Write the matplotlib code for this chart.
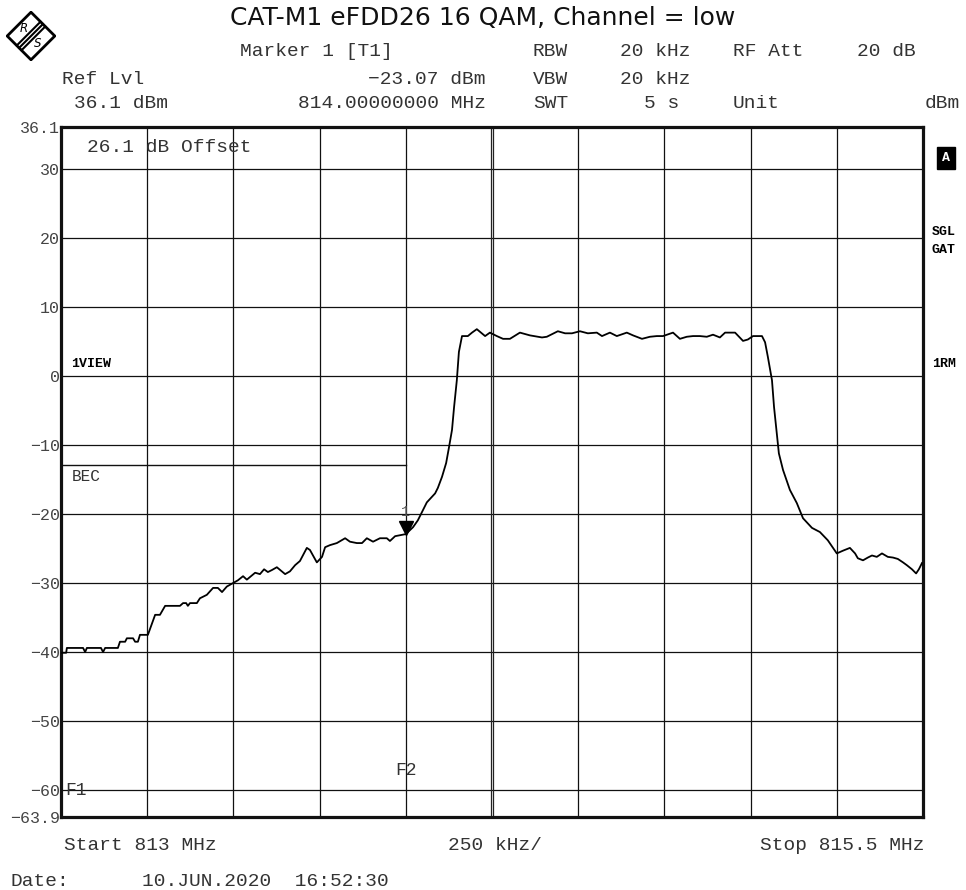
import matplotlib.pyplot as plt
from matplotlib.patches import Polygon
from matplotlib.transforms import offset_copy

# trace
freq_mhz = [813.000, 813.015, 813.017, 813.064, 813.070, 813.075, 813.116, 813.122,
            813.128, 813.165, 813.171, 813.186, 813.191, 813.209, 813.215, 813.223,
            813.229, 813.252, 813.273, 813.287, 813.302, 813.345, 813.354, 813.363,
            813.368, 813.374, 813.394, 813.403, 813.423, 813.441, 813.455, 813.467,
            813.481, 813.499, 813.513, 813.528, 813.539, 813.563, 813.577, 813.589,
            813.600, 813.612, 813.626, 813.650, 813.664, 813.679, 813.693, 813.713,
            813.722, 813.742, 813.757, 813.766, 813.780, 813.800, 813.824, 813.838,
            813.858, 813.873, 813.887, 813.905, 813.925, 813.945, 813.954, 813.969,
            813.989, 814.000, 814.021, 814.035, 814.050, 814.061, 814.085, 814.093,
            814.105, 814.117, 814.125, 814.134, 814.140, 814.148, 814.154, 814.163,
            814.180, 814.192, 814.206, 814.230, 814.244, 814.264, 814.282, 814.302,
            814.331, 814.360, 814.395, 814.409, 814.441, 814.462, 814.482, 814.505,
            814.528, 814.554, 814.569, 814.592, 814.612, 814.641, 814.659, 814.685,
            814.708, 814.728, 814.746, 814.775, 814.795, 814.815, 814.833, 814.853,
            814.873, 814.891, 814.911, 814.926, 814.955, 814.978, 814.992, 815.007,
            815.033, 815.042, 815.050, 815.062, 815.068, 815.076, 815.082, 815.094,
            815.114, 815.134, 815.152, 815.178, 815.201, 815.224, 815.250, 815.268,
            815.288, 815.303, 815.311, 815.326, 815.340, 815.352, 815.366, 815.381,
            815.398, 815.413, 815.427, 815.442, 815.453, 815.468, 815.480, 815.488,
            815.497]
level_dbm = [-40.1, -40.1, -39.4, -39.4, -40.0, -39.4, -39.4, -40.0,
             -39.4, -39.4, -38.5, -38.5, -38.0, -38.0, -38.5, -38.5,
             -37.5, -37.5, -34.6, -34.6, -33.3, -33.3, -32.9, -32.9,
             -33.3, -32.9, -32.9, -32.2, -31.7, -30.7, -30.7, -31.3,
             -30.5, -30.0, -29.6, -29.0, -29.5, -28.5, -28.7, -28.0,
             -28.4, -28.1, -27.7, -28.7, -28.3, -27.4, -26.8, -24.9,
             -25.2, -27.0, -26.2, -24.8, -24.5, -24.2, -23.5, -24.0,
             -24.2, -24.2, -23.5, -24.0, -23.5, -23.5, -23.9, -23.2,
             -23.0, -22.9, -21.9, -20.9, -19.4, -18.3, -17.0, -16.2,
             -14.6, -12.6, -10.4, -7.8, -4.5, -0.6, 3.5, 5.8,
             5.8, 6.3, 6.8, 5.8, 6.3, 5.8, 5.4, 5.4,
             6.3, 5.9, 5.6, 5.7, 6.5, 6.2, 6.2, 6.5,
             6.2, 6.3, 5.8, 6.3, 5.8, 6.3, 5.9, 5.4,
             5.7, 5.8, 5.8, 6.3, 5.4, 5.7, 5.8, 5.8,
             5.7, 6.0, 5.6, 6.3, 6.3, 5.1, 5.3, 5.8,
             5.8, 4.9, 2.8, -0.6, -4.5, -8.3, -11.2, -13.6,
             -16.5, -18.4, -20.6, -22.0, -22.6, -23.8, -25.7, -25.3,
             -24.9, -25.7, -26.4, -26.7, -26.3, -26.0, -26.2, -25.7,
             -26.2, -26.3, -26.5, -27.0, -27.4, -28.0, -28.6, -28.0,
             -27.1]

f_start, f_stop = 813.0, 815.5
ref_lvl, bottom_lvl = 36.1, -63.9
grid_freqs = [813.25, 813.5, 813.75, 814.0, 814.5, 814.75, 815.0, 815.25]
center_freq = 814.25
grid_levels = [30, 20, 10, 0, -10, -20, -30, -40, -50, -60]
ytick_vals = [36.1, 30, 20, 10, 0, -10, -20, -30, -40, -50, -60, -63.9]
ytick_labels = ['36.1', '30', '20', '10', '0', '\u221210', '\u221220', '\u221230',
                '\u221240', '\u221250', '\u221260', '\u221263.9']
marker_freq, marker_lvl = 814.0, -23.07
bec_lvl, bec_stop = -12.9, 814.0
f1_freq, f2_freq = 813.0, 814.0

title = 'CAT-M1 eFDD26 16 QAM, Channel = low'
header = [('Marker 1 [T1]', 240, 52, 'left'), ('RBW', 533, 52, 'left'),
          ('20 kHz', 690, 52, 'right'), ('RF Att', 733, 52, 'left'),
          ('20 dB', 857, 52, 'left'),
          ('Ref Lvl', 62, 79, 'left'), ('\u221223.07 dBm', 486, 79, 'right'),
          ('VBW', 533, 79, 'left'), ('20 kHz', 690, 79, 'right'),
          ('36.1 dBm', 74, 103, 'left'), ('814.00000000 MHz', 486, 103, 'right'),
          ('SWT', 533, 103, 'left'), ('5 s', 679, 103, 'right'),
          ('Unit', 733, 103, 'left'), ('dBm', 925, 103, 'left'),
          ('Start 813 MHz', 64, 845, 'left'), ('250 kHz/', 448, 845, 'left'),
          ('Stop 815.5 MHz', 924, 845, 'right'),
          ('Date:', 10, 881, 'left'), ('10.JUN.2020  16:52:30', 142, 881, 'left')]

W, H = 966, 890
MONO = ['Liberation Mono', 'DejaVu Sans Mono']
TXT = '#333333'

fig = plt.figure(figsize=(W / 100, H / 100), dpi=100)
ax = fig.add_axes([61 / W, 1 - 817 / H, 862 / W, 690 / H])

def ftext(s, x, y, ha='left', **kw):
    kw.setdefault('family', MONO)
    kw.setdefault('fontsize', 14)
    kw.setdefault('color', TXT)
    fig.text(x / W, 1 - y / H, s, ha=ha, va='center', **kw)

# grid
for lv in grid_levels:
    ax.axhline(lv, color='#111111', lw=0.9, zorder=1)
for fq in grid_freqs:
    ax.axvline(fq, color='#111111', lw=0.9, zorder=1)
# center line is drawn doubled on the screen
for off in (-0.0017, 0.0017):
    ax.axvline(center_freq + off, color='#222222', lw=0.9, zorder=1)

# trace
ax.plot(freq_mhz, level_dbm, color='black', lw=1.3, zorder=3)

# limit line and markers
ax.plot([f_start, bec_stop], [bec_lvl, bec_lvl], color='#111111', lw=1.0, zorder=2)
ax.text(813.03, bec_lvl - 0.5, 'BEC', family=MONO, fontsize=11.5, color=TXT,
        ha='left', va='top')
tri = offset_copy(ax.transData, fig=fig, x=0, y=5, units='points')
ax.plot([marker_freq], [marker_lvl], marker='v', color='black', markersize=10,
        transform=tri, zorder=4)
ax.text(marker_freq, marker_lvl + 2.3, '1', family=MONO, fontsize=11, color='#555555',
        ha='center', va='bottom')
ax.text(f1_freq + 0.012, -60, 'F1', family=MONO, fontsize=13, color=TXT,
        ha='left', va='center')
ax.text(f2_freq, -57.2, 'F2', family=MONO, fontsize=13, color=TXT,
        ha='center', va='center')

ax.text(813.075, 33.2, '26.1 dB Offset', family=MONO, fontsize=14, color=TXT,
        ha='left', va='center')
ax.text(813.03, 1.8, '1VIEW', family=MONO, fontsize=9.5, weight='bold', color='black',
        ha='left', va='center')

ax.set_xlim(f_start, f_stop)
ax.set_ylim(bottom_lvl, ref_lvl)
ax.set_xticks([])
ax.set_yticks(ytick_vals)
ax.set_yticklabels(ytick_labels, family=MONO, fontsize=12, color='#444444')
ax.tick_params(axis='y', length=0, pad=1)
for sp in ax.spines.values():
    sp.set_linewidth(2.3)
    sp.set_color('#111111')

# title and header
fig.text(483 / W, 1 - 18 / H, title, ha='center', va='center', fontsize=18,
         family='DejaVu Sans', color='#111111')
for s, x, y, ha in header:
    ftext(s, x, y, ha)

# side annotations
fig.text(946 / W, 1 - 158 / H, 'A', ha='center', va='center', family=MONO,
         fontsize=9.5, weight='bold', color='white',
         bbox=dict(boxstyle='square,pad=0.4', fc='black', ec='black'))
for s, y in [('SGL', 232), ('GAT', 250), ('1RM', 364)]:
    ftext(s, 932, y, 'left', fontsize=9.5, weight='bold', color='black')

# R&S logo
lax = fig.add_axes([6 / W, 1 - 61 / H, 50 / W, 50 / H])
lax.set_xlim(-1.05, 1.05)
lax.set_ylim(-1.05, 1.05)
lax.axis('off')
lax.add_patch(Polygon([[0, 1], [1, 0], [0, -1], [-1, 0]], closed=True,
                      fc='white', ec='black', lw=2.0))
for d in [-0.1, 0.0, 0.1]:
    lax.plot([-0.5 + d, 0.5 + d], [-0.5 - d, 0.5 - d], color='black', lw=1.5)
lax.text(-0.3, 0.32, 'R', fontsize=8.5, style='italic', ha='center', va='center',
         family='DejaVu Sans')
lax.text(0.3, -0.32, 'S', fontsize=8.5, style='italic', ha='center', va='center',
         family='DejaVu Sans')

fig.savefig('out.png', dpi=100)
